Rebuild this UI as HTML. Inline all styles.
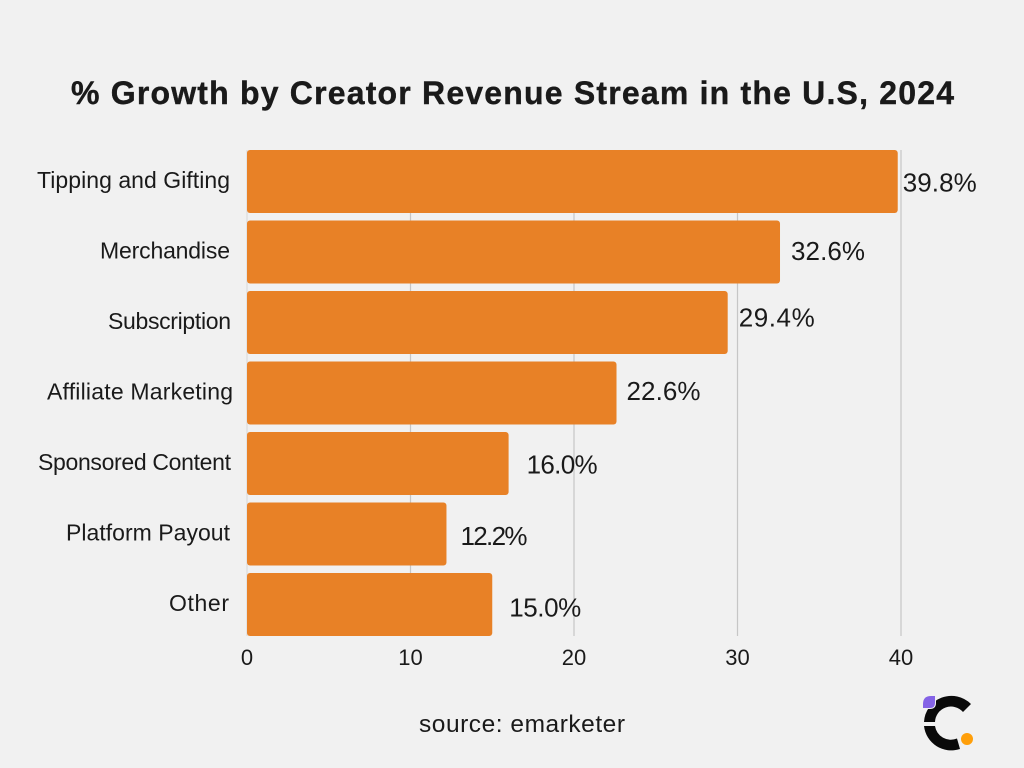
<!DOCTYPE html>
<html lang="en">
<head>
<meta charset="utf-8">
<title>% Growth by Creator Revenue Stream in the U.S, 2024</title>
<style>
html,body{margin:0;padding:0;background:#f1f1f1;width:1024px;height:768px;overflow:hidden}
svg{display:block}
text{font-family:"Liberation Sans",sans-serif;fill:#1a1a1a}
</style>
</head>
<body>
<svg id="chart" width="1024" height="768" viewBox="0 0 1024 768" xmlns="http://www.w3.org/2000/svg">
  <rect width="1024" height="768" fill="#f1f1f1"/>
  <text x="71" y="104" font-size="32" font-weight="700" textLength="883" lengthAdjust="spacing" stroke="#1a1a1a" stroke-width="0.4">% Growth by Creator Revenue Stream in the U.S, 2024</text>
  <g id="grid"></g>
  <g id="bars"></g>
  <g id="xticks"></g>
  <text x="419" y="732" font-size="24.5" textLength="206" lengthAdjust="spacing">source: emarketer</text>
  <g>
    <path d="M924 722 A27.5 27.5 0 0 1 971 704 L963 712 A16 16 0 0 0 935 722 Z" fill="#0a0a0a"/>
    <path d="M924 726 L935 726 A16 16 0 0 0 957 738.5 L960 749 A27.5 27.5 0 0 1 924 726 Z" fill="#0a0a0a"/>
    <path d="M935 696 L935 703 Q935 708 930 708 L923 708 L923 704 Q923 696 931 696 Z" fill="#8463e6" stroke="#f1f1f1" stroke-width="2" paint-order="stroke"/>
    <circle cx="967" cy="739" r="6" fill="#ff9f0a"/>
  </g>
</svg>
<script>
const categories = ["Tipping and Gifting","Merchandise","Subscription","Affiliate Marketing","Sponsored Content","Platform Payout","Other"];
const growthValues = [39.8,32.6,29.4,22.6,16.0,12.2,15.0];
const valueLabels = ["39.8%","32.6%","29.4%","22.6%","16.0%","12.2%","15.0%"];
const tickValues = [0,10,20,30,40];

const NS = "http://www.w3.org/2000/svg";
const xScale = v => 247 + v * (901 - 247) / 40;
const bandTop = i => 150 + i * 70.5;
const BAR_H = 63;

function make(tag, attrs, parent, txt){
  const el = document.createElementNS(NS, tag);
  for (const k in attrs) el.setAttribute(k, attrs[k]);
  if (txt !== undefined) el.textContent = txt;
  parent.appendChild(el);
  return el;
}
const grid = document.getElementById('grid');
const barsG = document.getElementById('bars');
const ticksG = document.getElementById('xticks');

tickValues.forEach(t => {
  const line = make('line', {x1:xScale(t), x2:xScale(t), y1:150, y2:636, stroke:t === 0 ? '#dcdcdc' : '#c6c6c6', 'stroke-width':1.2}, grid);
  
  
  const label = make('text', {x:xScale(t), y:665, 'text-anchor':'middle', 'font-size':22}, ticksG, String(t));
  
  
});

const labelNudgeX = [5,11,11,10,18,14,17];
const labelNudgeY = [0,-2,-6,-3,0,1,2];
const labelFit = [74,74,76,74,71,67,72];
const catNudgeX = [0,0,1,3,1,0,-1];
const catFit = [193,130,123,186,193,164,60];
categories.forEach((c, i) => {
  const top = bandTop(i);
  const w = xScale(growthValues[i]) - xScale(0);
  const bar = make('rect', {x:xScale(0), y:top, width:w, height:BAR_H, rx:3, fill:'#e88126'}, barsG);
  
  
  const cat = make('text', {x:230 + catNudgeX[i], y:top + 38, 'text-anchor':'end', 'font-size':23, textLength:catFit[i], lengthAdjust:'spacing'}, barsG, c);
  
  
  const val = make('text', {x:xScale(growthValues[i]) + labelNudgeX[i], y:top + BAR_H/2 + 10 + labelNudgeY[i], 'font-size':26, textLength:labelFit[i], lengthAdjust:'spacing'}, barsG, valueLabels[i]);
  
  
});
</script>
</body>
</html>
